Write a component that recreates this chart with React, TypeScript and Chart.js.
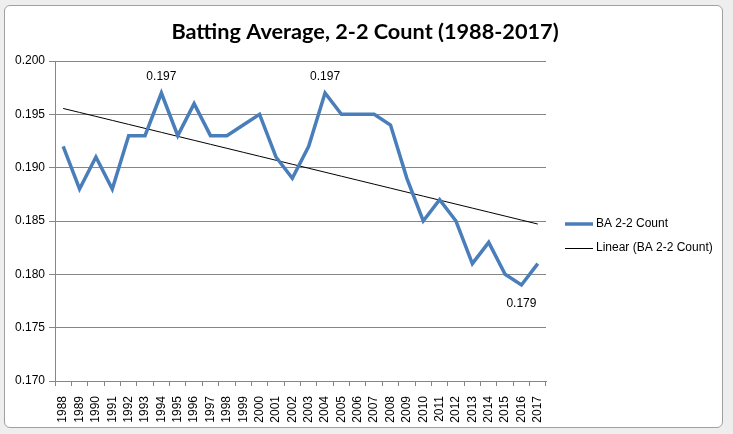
import React from "react";
import { Chart, ChartConfiguration, Plugin, registerables } from "chart.js";

Chart.register(...registerables);

const years = [
  "1988", "1989", "1990", "1991", "1992", "1993", "1994", "1995", "1996", "1997",
  "1998", "1999", "2000", "2001", "2002", "2003", "2004", "2005", "2006", "2007",
  "2008", "2009", "2010", "2011", "2012", "2013", "2014", "2015", "2016", "2017",
];

const battingAvg = [
  0.192, 0.188, 0.191, 0.188, 0.193, 0.193, 0.197, 0.193, 0.196, 0.193,
  0.193, 0.194, 0.195, 0.191, 0.189, 0.192, 0.197, 0.195, 0.195, 0.195,
  0.194, 0.189, 0.185, 0.187, 0.185, 0.181, 0.183, 0.18, 0.179, 0.181,
];

const yTicks = [0.17, 0.175, 0.18, 0.185, 0.19, 0.195, 0.2];

// years that get a value label, and whether it sits above or below the point
const labelledYears = ["1994", "2004", "2016"];
const labelSides = ["above", "above", "below"];

const titleText = "Batting Average, 2-2 Count (1988-2017)";
const seriesName = "BA 2-2 Count";
const trendName = "Linear (BA 2-2 Count)";

const LINE_BLUE = "#4a7ebb";
const AXIS_GRAY = "#868686";
const FONT = "'Liberation Sans', Arial, sans-serif";

// least-squares linear trend, like Excel's "Linear" trendline
function linearTrend(values: number[]): number[] {
  const n = values.length;
  const mx = (n - 1) / 2;
  const my = values.reduce((a, b) => a + b, 0) / n;
  let sxy = 0;
  let sxx = 0;
  values.forEach((v, i) => {
    sxy += (i - mx) * (v - my);
    sxx += (i - mx) * (i - mx);
  });
  const slope = sxy / sxx;
  return values.map((_, i) => my + slope * (i - mx));
}

const extrasPlugin: Plugin<"line"> = {
  id: "extras",
  afterDraw(chart) {
    const ctx = chart.ctx;
    ctx.save();

    // title
    ctx.fillStyle = "#000";
    ctx.font = `bold 21.7px Lato, 'Open Sans', sans-serif`;
    ctx.textAlign = "center";
    ctx.textBaseline = "middle";
    ctx.fillText(titleText, 365, 32);

    // value labels
    const meta = chart.getDatasetMeta(0);
    ctx.font = `12px ${FONT}`;
    labelledYears.forEach((yr, k) => {
      const i = years.indexOf(yr);
      const pt = meta.data[i];
      if (!pt) return;
      const dy = labelSides[k] === "above" ? -16 : 19;
      ctx.fillText(battingAvg[i].toFixed(3), pt.x, pt.y + dy);
    });

    // legend
    ctx.textAlign = "left";
    ctx.lineCap = "butt";
    ctx.strokeStyle = LINE_BLUE;
    ctx.lineWidth = 3.5;
    ctx.beginPath();
    ctx.moveTo(565, 224);
    ctx.lineTo(593, 224);
    ctx.stroke();
    ctx.fillText(seriesName, 596, 224);

    ctx.strokeStyle = "#000";
    ctx.lineWidth = 1;
    ctx.beginPath();
    ctx.moveTo(565, 248.5);
    ctx.lineTo(593, 248.5);
    ctx.stroke();
    ctx.fillText(trendName, 596, 248);

    ctx.restore();
  },
};

const App: React.FC = () => {
  const canvasRef = React.useRef<HTMLCanvasElement | null>(null);
  const chartRef = React.useRef<Chart<"line"> | null>(null);

  React.useEffect(() => {
    const canvas = canvasRef.current;
    if (!canvas) return;
    chartRef.current?.destroy();

    const config: ChartConfiguration<"line"> = {
      type: "line",
      data: {
        labels: years,
        datasets: [
          {
            label: seriesName,
            data: battingAvg,
            borderColor: LINE_BLUE,
            borderWidth: 3.5,
            pointRadius: 0,
            tension: 0,
            borderJoinStyle: "miter",
          },
          {
            label: trendName,
            data: linearTrend(battingAvg),
            borderColor: "#000",
            borderWidth: 1,
            pointRadius: 0,
            tension: 0,
          },
        ],
      },
      options: {
        animation: false,
        responsive: true,
        maintainAspectRatio: false,
        layout: { padding: { top: 61, right: 187, left: 0, bottom: 0 } },
        plugins: {
          legend: { display: false },
          title: { display: false },
          tooltip: { enabled: false },
        },
        scales: {
          x: {
            type: "category",
            offset: true,
            afterFit: (scale) => {
              scale.height = 53;
            },
            grid: {
              offset: true,
              drawOnChartArea: false,
              color: AXIS_GRAY,
              tickLength: 5,
            },
            border: { color: AXIS_GRAY, width: 1 },
            ticks: {
              autoSkip: false,
              minRotation: 90,
              maxRotation: 90,
              padding: 10,
              color: "#000",
              font: { family: FONT, size: 12 },
            },
          },
          y: {
            min: yTicks[0],
            max: yTicks[yTicks.length - 1],
            afterFit: (scale) => {
              scale.width = 55;
            },
            afterBuildTicks: (scale) => {
              scale.ticks = yTicks.map((v) => ({ value: v }));
            },
            grid: { color: AXIS_GRAY, tickLength: 6 },
            border: { color: AXIS_GRAY, width: 1 },
            ticks: {
              padding: 4,
              color: "#000",
              font: { family: FONT, size: 12 },
              callback: (v) => Number(v).toFixed(3),
            },
          },
        },
      },
      plugins: [extrasPlugin],
    };

    chartRef.current = new Chart(canvas, config);
    return () => {
      chartRef.current?.destroy();
      chartRef.current = null;
    };
  }, []);

  return (
    <div
      style={{
        position: "absolute",
        left: 0,
        top: 0,
        width: 733,
        height: 434,
        background: "#eeeeee",
        overflow: "hidden",
      }}
    >
      <div
        style={{
          position: "absolute",
          left: 4,
          top: 5,
          width: 717,
          height: 421,
          background: "#fff",
          border: "1px solid #a0a0a0",
          borderRadius: 6,
        }}
      />
      <div style={{ position: "absolute", left: 0, top: 0, width: 733, height: 434 }}>
        <canvas ref={canvasRef} />
      </div>
    </div>
  );
};

export default App;
